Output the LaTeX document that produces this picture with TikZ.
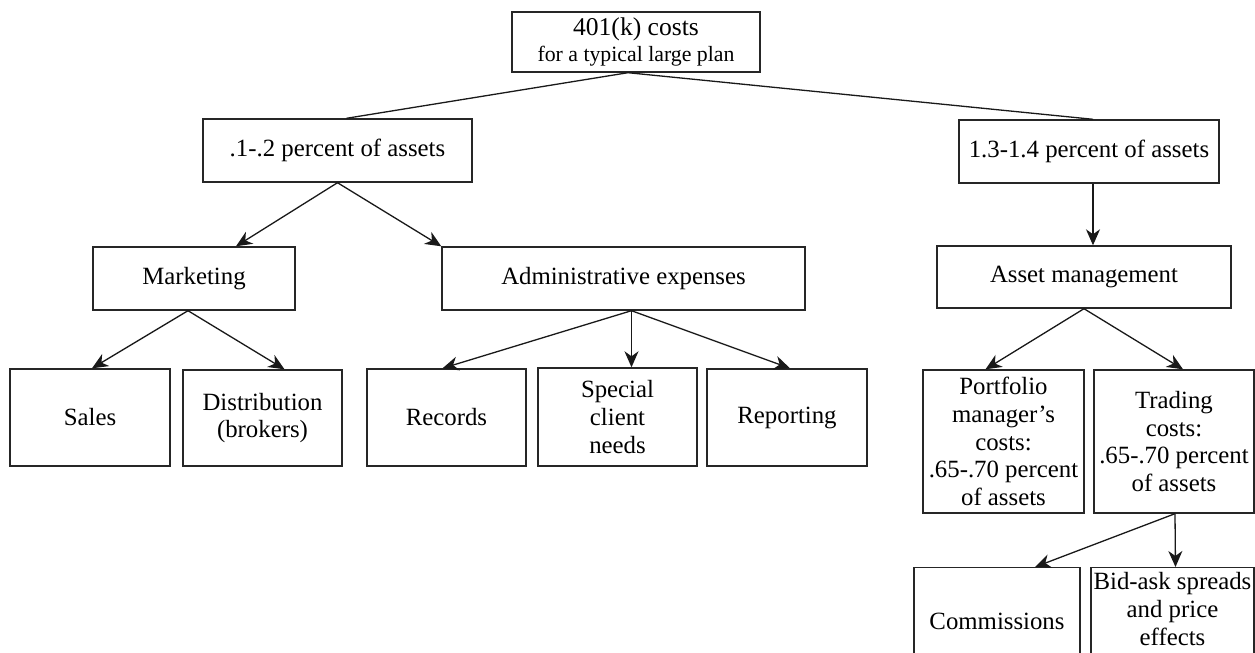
\documentclass[tikz,border=0pt]{standalone}
\usepackage{fontspec}
\setmainfont{Liberation Serif}
\usetikzlibrary{arrows.meta,calc}
\tikzset{
  box/.style={draw=black!85, line width=0.7pt, rectangle, align=center, inner sep=2pt,
    font=\fontsize{12.4}{13.9}\selectfont},
  txt/.style={align=center, inner sep=0pt, font=\fontsize{12.4}{13.9}\selectfont},
  conn/.style={draw=black!90, line width=0.65pt},
  arr/.style={conn, -{Stealth[length=8pt,width=7pt,inset=2.5pt]}}
}
\begin{document}
\begin{tikzpicture}[x=0.5pt,y=-0.5pt]
\useasboundingbox (0,0) rectangle (1255,653);
\clip (0,0) rectangle (1255,653);
% level 0
\node[box, minimum width=124pt, minimum height=30pt] (top) at (636,42)
  {{\fontsize{12.8}{13}\selectfont 401(k) costs}\\[-1pt]{\fontsize{10.9}{12}\selectfont for a typical large plan}};
% level 1
\node[box, minimum width=134.5pt, minimum height=31.5pt] (p12) at (337.5,150.5) {.1-.2 percent of assets};
\node[box, minimum width=130pt, minimum height=31.5pt] (p134) at (1089,151.5) {1.3-1.4 percent of assets};
% level 2
\node[box, minimum width=101pt, minimum height=31.5pt] (mkt) at (194,278.5) {Marketing};
\node[box, minimum width=181.5pt, minimum height=31.5pt] (adm) at (623.5,278.5) {Administrative expenses};
\node[box, minimum width=147pt, minimum height=31pt] (asset) at (1084,277) {Asset management};
% level 3
\node[box, minimum width=80pt, minimum height=48.5pt] (sales) at (90,417.5) {Sales};
\node[box, minimum width=79.5pt, minimum height=48pt] (dist) at (262.5,418) {Distribution\\(brokers)};
\node[box, minimum width=79.5pt, minimum height=48.5pt] (rec) at (446.5,417.5) {Records};
\node[box, minimum width=79.5pt, minimum height=49pt] (spec) at (617.5,417) {Special\\client\\needs};
\node[box, minimum width=80pt, minimum height=48.5pt] (rep) at (787,417.5) {Reporting};
\node[box, minimum width=80.5pt, minimum height=71.5pt] (port) at (1003.5,441.5) {Portfolio\\manager’s\\costs:\\.65-.70 percent\\of assets};
\node[box, minimum width=80pt, minimum height=71.5pt] (trad) at (1174,441.5) {Trading\\costs:\\.65-.70 percent\\of assets};
% level 4 (cut off by the page edge)
\node[box, minimum width=83pt, minimum height=70pt, anchor=north] (comm) at (997,567) {};
\node[box, minimum width=81.5pt, minimum height=70pt, anchor=north] (bid) at (1172.5,567) {};
\node[txt] (commt) at (997,621) {Commissions};
\node[txt] (bidt) at (1172.5,609) {Bid-ask spreads\\and price\\effects};
% connectors
\draw[conn] ($(top.south)+(-8,0)$) -- ($(p12.north)+(9,0)$);
\draw[conn] ($(top.south)+(-8,0)$) -- ($(p134.north)+(4,0)$);
\draw[arr] (p12.south) -- ($(mkt.north)+(42,0)$);
\draw[arr] (p12.south) -- (adm.north west);
\draw[arr] ($(p134.south)+(4,0)$) -- ($(asset.north)+(9,0)$);
\draw[arr] ($(mkt.south)+(-6,0)$) -- ($(sales.north)+(2,0)$);
\draw[arr] ($(mkt.south)+(-6,0)$) -- ($(dist.north)+(22,0)$);
\draw[arr] ($(adm.south)+(8,0)$) -- ($(rec.north)+(-4,0)$);
\draw[arr] ($(adm.south)+(8,0)$) -- ($(spec.north)+(14,0)$);
\draw[arr] ($(adm.south)+(8,0)$) -- ($(rep.north)+(3,0)$);
\draw[arr] (asset.south) -- ($(port.north)+(-18,0)$);
\draw[arr] (asset.south) -- ($(trad.north)+(9,0)$);
\draw[arr] ($(trad.south)+(1,0)$) -- ($(comm.north)+(38,0)$);
\draw[arr] ($(trad.south)+(1,0)$) -- ($(bid.north)+(3,0)$);
\end{tikzpicture}
\end{document}
